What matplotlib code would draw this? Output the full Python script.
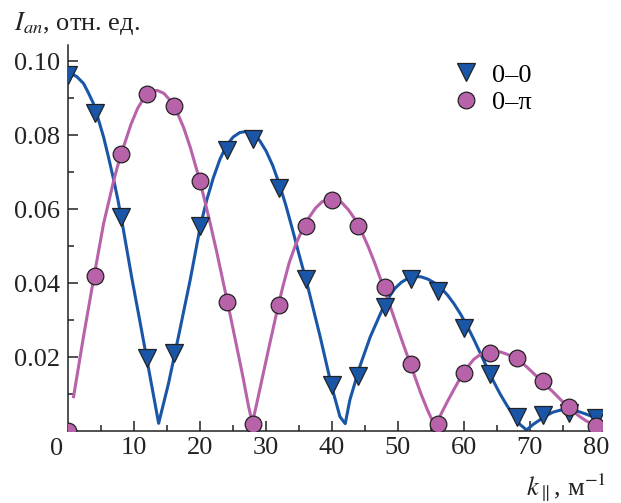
import numpy as np
import matplotlib.pyplot as plt
from matplotlib.lines import Line2D

plt.rcParams['font.family'] = ['Liberation Serif', 'DejaVu Serif']
plt.rcParams['mathtext.fontset'] = 'stix'

# measured points
k_pts = [0, 4, 8, 12, 16, 20, 24, 28, 32, 36, 40, 44, 48, 52, 56, 60, 64, 68, 72, 76, 80]
i00_pts = [0.0962, 0.086, 0.058, 0.0197, 0.021, 0.0554, 0.076, 0.079, 0.0657, 0.041, 0.0124,
           0.0149, 0.0335, 0.041, 0.038, 0.028, 0.0154, 0.0038, 0.0043, 0.0049, 0.0035]
i0pi_pts = [0.0, 0.042, 0.075, 0.091, 0.088, 0.0676, 0.035, 0.002, 0.034, 0.0554, 0.0624,
            0.0554, 0.039, 0.018, 0.002, 0.0157, 0.021, 0.0197, 0.0135, 0.0065, 0.0013]

# fitted curves
k_fit00 = [0.3, 1.3, 2.3, 3.0, 3.8, 4.5, 5.35, 6.1, 6.9, 7.5, 8.1, 9.6, 11.2, 12.4, 13.7,
           15.2, 16.7, 18.5, 20, 21, 22, 23, 24, 25, 26, 27, 28, 29, 30, 31, 32, 33, 34, 35,
           36.2, 38.2, 39.95, 41.2, 42.0, 42.7, 44.2, 45.8, 47.8, 48.5, 49.5, 50.5, 51.5,
           52.5, 53.5, 54.5, 55.5, 56.5, 57.5, 58.5, 59.5, 60.5, 61.5, 62.5, 63.5, 64.5,
           65.5, 66.5, 67.5, 68.5, 69.5, 70.5, 71.5, 72.5, 73.5, 74.5, 75.5, 76.5, 77.5,
           78.5, 79.5, 80.1]
i_fit00 = [0.0968, 0.0958, 0.094, 0.0916, 0.0886, 0.0846, 0.0795, 0.0740, 0.0678, 0.0627,
           0.057, 0.0417, 0.0264, 0.0147, 0.0021, 0.0129, 0.0255, 0.041, 0.0552, 0.0625,
           0.0685, 0.0735, 0.0772, 0.0795, 0.0807, 0.0810, 0.0803, 0.0786, 0.0757, 0.0718,
           0.0668, 0.0610, 0.0545, 0.0477, 0.0399, 0.0255, 0.012, 0.0039, 0.002, 0.0084,
           0.0174, 0.0255, 0.0336, 0.0358, 0.0385, 0.0402, 0.0413, 0.0418, 0.0417, 0.0411,
           0.0401, 0.0387, 0.0368, 0.0344, 0.0316, 0.0284, 0.0248, 0.0210, 0.0172, 0.0134,
           0.0100, 0.0070, 0.0042, 0.0018, 0.0003, 0.0018, 0.003, 0.0042, 0.0051, 0.0056,
           0.0058, 0.0057, 0.0052, 0.0046, 0.0039, 0.0034]
k_fit0pi = [0.8, 2.3, 3.8, 5.35, 6.9, 7.5, 8.5, 9.5, 10.5, 11.5, 12.5, 13.5, 14.5, 15.5,
            16.5, 17.5, 18.5, 19.5, 20.5, 21.5, 22.5, 23.5, 24.5, 25.5, 26.5, 27.3, 27.9,
            28.5, 29.5, 30.5, 31.5, 32.5, 33.5, 34.5, 35.5, 36.5, 37.5, 38.5, 39.5, 40.5,
            41.5, 42.5, 43.5, 44.5, 45.5, 46.5, 47.5, 48.5, 49.5, 50.5, 51.5, 52.5, 53.5,
            54.5, 55.3, 55.9, 56.5, 57.5, 58.5, 59.5, 60.5, 61.5, 62.5, 63.5, 64.5, 65.5,
            66.5, 67.5, 68.5, 69.5, 70.5, 71.5, 72.5, 73.5, 74.5, 75.5, 76.5, 77.5, 78.5,
            79.8]
i_fit0pi = [0.0093, 0.0255, 0.0408, 0.0561, 0.0678, 0.0718, 0.0775, 0.0829, 0.0872, 0.0902,
            0.0918, 0.0921, 0.0913, 0.0893, 0.0862, 0.0820, 0.0767, 0.0705, 0.0637, 0.0563,
            0.0485, 0.0402, 0.0318, 0.0232, 0.0145, 0.0070, 0.0022, 0.0068, 0.0150, 0.0232,
            0.0312, 0.0388, 0.0455, 0.0505, 0.0545, 0.0577, 0.0603, 0.0620, 0.0628, 0.0627,
            0.0617, 0.0598, 0.0572, 0.0538, 0.0498, 0.0453, 0.0404, 0.0354, 0.0302, 0.0250,
            0.0200, 0.0150, 0.0100, 0.0056, 0.0025, 0.0021, 0.0045, 0.0080, 0.0113, 0.0145,
            0.0172, 0.0194, 0.0207, 0.0215, 0.0217, 0.0214, 0.0208, 0.0200, 0.0189, 0.0174,
            0.0157, 0.0140, 0.0123, 0.0106, 0.0088, 0.0070, 0.0054, 0.0040, 0.0028, 0.0016]

blue = '#1a56a8'
pink = '#b862aa'
ink = '#222222'

fig = plt.figure(figsize=(6.21, 5.03), dpi=100)
ax = fig.add_axes([0.11, 0.143, 0.86, 0.767])

ax.plot(k_fit00, i_fit00, color=blue, lw=2.2, zorder=2)
ax.plot(k_fit0pi, i_fit0pi, color=pink, lw=2.2, zorder=2)
ax.plot(k_pts, i00_pts, 'v', color=blue, ms=13, mec=ink, mew=0.9, zorder=3)
ax.plot(k_pts, i0pi_pts, 'o', color=pink, ms=12, mec=ink, mew=0.9, zorder=3)

ax.set_xlim(0, 81)
ax.set_ylim(0, 0.1043)
ax.spines['top'].set_visible(False)
ax.spines['right'].set_visible(False)
for s in ['left', 'bottom']:
    ax.spines[s].set_linewidth(1.1)
    ax.spines[s].set_color(ink)

ax.set_xticks(np.arange(10, 81, 10))
ax.set_xticks(np.arange(5, 81, 10), minor=True)
ax.set_yticks([0.02, 0.04, 0.06, 0.08, 0.10])
ax.set_yticks([0.01, 0.03, 0.05, 0.07, 0.09], minor=True)
ax.set_yticklabels(['0.02', '0.04', '0.06', '0.08', '0.10'])
ax.tick_params(which='both', direction='in', labelsize=19, colors=ink)
ax.tick_params(which='major', length=7, width=1.1)
ax.tick_params(which='minor', length=4.5, width=1.1)
ax.tick_params(axis='x', pad=4)
ax.tick_params(axis='y', pad=6)
ax.annotate('0', xy=(0, 0), xytext=(-4, -5), textcoords='offset points',
            ha='right', va='top', fontsize=19, color=ink)

fig.text(0.022, 0.953, '$I_{an}$, отн. ед.', fontsize=19, va='center', ha='left', color=ink)
fig.text(0.977, 0.03, '$k_{\\parallel}$, м$^{-1}$', fontsize=19, va='center', ha='right', color=ink)

handles = [Line2D([], [], ls='none', marker='v', color=blue, ms=13, mec=ink, mew=0.9),
           Line2D([], [], ls='none', marker='o', color=pink, ms=12, mec=ink, mew=0.9)]
ax.legend(handles, ['0–0', '0–π'], loc='upper left', bbox_to_anchor=(0.69, 0.995),
          frameon=False, fontsize=19, handlelength=1.0, handletextpad=0.5,
          labelspacing=0.15, borderaxespad=0.2)

fig.savefig('out.png', dpi=100)
